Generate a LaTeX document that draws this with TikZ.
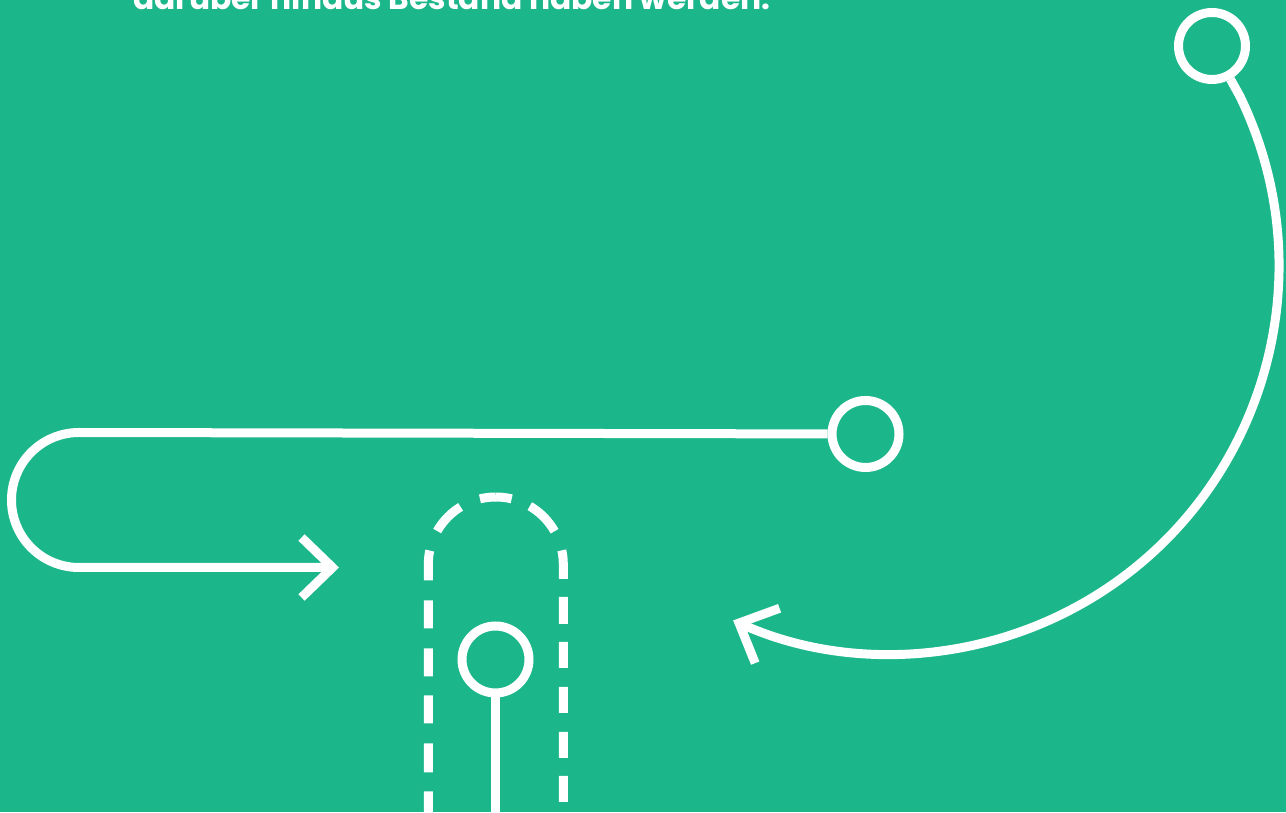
\documentclass[tikz,border=0pt]{standalone}
\usepackage{fontspec}
\newfontfamily\headfont{Poppins}
\usetikzlibrary{arrows.meta}
\definecolor{bg}{HTML}{1BB68A}
\begin{document}
\begin{tikzpicture}[x=1pt,y=1pt,
  ring/.style={circle, draw=white, line width=9pt, minimum size=67pt, inner sep=0pt},
  conn/.style={draw=white, line width=9pt},
  barbed/.style={-{Straight Barb[length=31pt,width=60pt]}},
  headtext/.style={text=white, inner sep=0pt, anchor=base west, font=\headfont\bfseries}]
\fill[bg] (0,0) rectangle (1286,812);
\useasboundingbox (0,0) rectangle (1286,812);

% heading (cut off at the top)
\node[headtext] (head) at (133,802.5) {\resizebox{637pt}{!}{darüber hinaus Bestand haben werden.}};

% nodes
\node[ring] (c1) at (1212,766) {};
\node[ring] (c2) at (865.5,378) {};
\node[ring] (c3) at (495.5,152.5) {};

% big arc arrow
\coordinate (s1) at (1239.7,716.1);
\draw[conn, barbed] (c1) -- (s1) arc[start angle=26, end angle=-114, radius=388];

% left loop arrow
\coordinate (s2) at (79,379.5);
\draw[conn, barbed] (c2) -- (s2) arc[start angle=90, end angle=270, radius=67.5] -- ++(260,0);

% stem
\coordinate (s3) at (495.5,-6);
\draw[conn] (c3) -- (s3);

% dashed U
\coordinate (utop) at (495.8,315);
\coordinate (ul) at (428.3,-6);
\coordinate (ur) at (563.3,-6);
\draw[conn, dash pattern=on 16pt off 21pt on 34pt off 21pt on 30pt off 20pt on 28pt off 20pt on 28pt off 19pt on 28pt off 20pt on 29pt off 19pt on 50pt off 10pt]
  (utop) arc[start angle=90, end angle=180, radius=67.5] -- (ul);
\draw[conn, dash pattern=on 16pt off 19.6pt on 35.7pt off 20.5pt on 28.7pt off 18pt on 27pt off 18pt on 26pt off 19pt on 26pt off 19pt on 26pt off 18pt on 26pt off 30pt]
  (utop) arc[start angle=90, end angle=0, radius=67.5] -- (ur);
\end{tikzpicture}
\end{document}
